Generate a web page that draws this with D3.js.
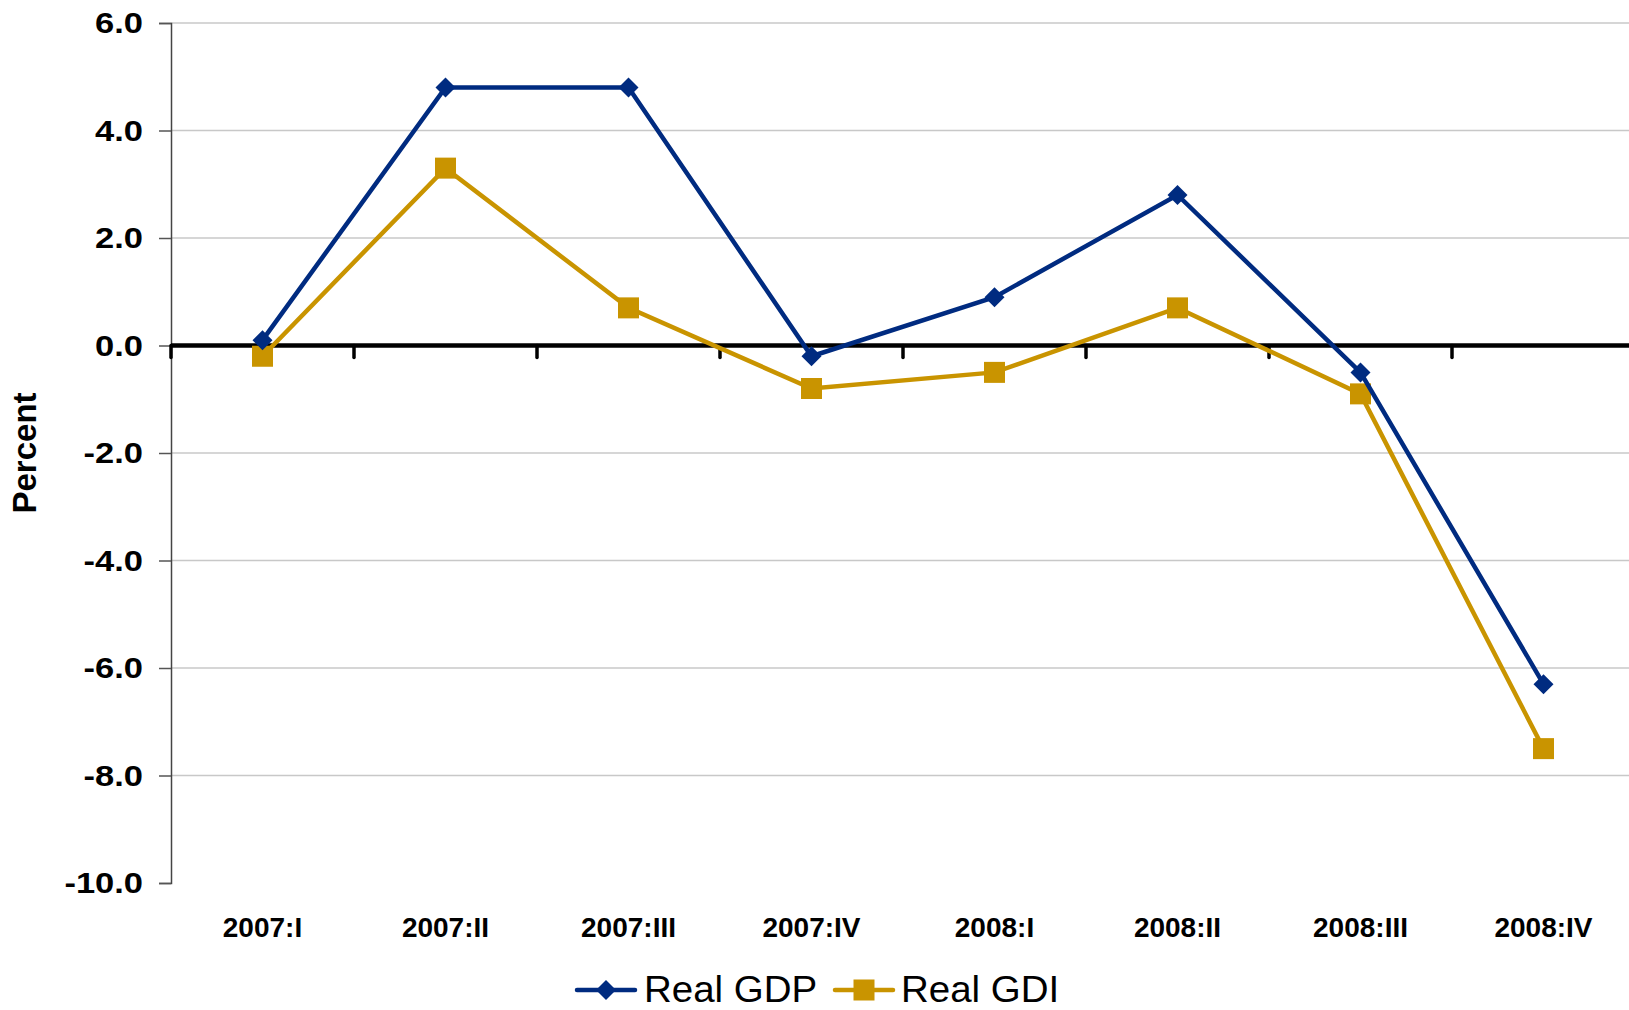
<!DOCTYPE html>
<html>
<head>
<meta charset="utf-8">
<script src="https://cdn.jsdelivr.net/npm/d3@7"></script>
<style>
  html, body { margin: 0; padding: 0; background: #fff; }
  svg { display: block; font-family: "Liberation Sans", Arial, sans-serif; }
</style>
</head>
<body>
<svg id="chart" width="1629" height="1010"></svg>
<script>
const categories = ["2007:I", "2007:II", "2007:III", "2007:IV", "2008:I", "2008:II", "2008:III", "2008:IV"];
const realGDP = [0.1, 4.8, 4.8, -0.2, 0.9, 2.8, -0.5, -6.3];
const realGDI = [-0.2, 3.3, 0.7, -0.8, -0.5, 0.7, -0.9, -7.5];
const yTicks = [6, 4, 2, 0, -2, -4, -6, -8, -10];
const seriesNames = ["Real GDP", "Real GDI"];

const colGDP = "#002B80";
const colGDI = "#C99400";

const svg = d3.select("#chart");
const plotLeft = 171, plotRight = 1635, plotTop = 23, plotBottom = 883;

const x = d3.scaleBand().domain(categories).range([plotLeft, plotRight]).padding(0);
const y = d3.scaleLinear().domain([-10, 6]).range([plotBottom, plotTop]);

// gridlines
svg.append("g").selectAll("line").data(yTicks.filter(d => d !== 0 && d !== -10)).join("line")
  .attr("x1", plotLeft).attr("x2", 1629)
  .attr("y1", d => y(d)).attr("y2", d => y(d))
  .attr("stroke", "#c8c8c8").attr("stroke-width", 1.5);

// y axis
const fmt = d => d.toFixed(1);
const yAxis = d3.axisLeft(y).tickValues(yTicks).tickFormat(fmt).tickSize(12).tickPadding(16);
const gy = svg.append("g").attr("transform", `translate(${plotLeft},0)`).call(yAxis);
gy.select(".domain").attr("stroke", "#444").attr("stroke-width", 1.5);
gy.selectAll(".tick line").attr("stroke", "#555").attr("stroke-width", 1.5);
gy.selectAll(".tick text")
  .attr("font-family", "'Liberation Sans', Arial, sans-serif")
  .attr("font-size", 30).attr("font-weight", "bold").attr("fill", "#000")
  .attr("x", 0)
  .attr("transform", "translate(-28,0) scale(1.15,1)");

// zero line with tick marks
const tickXs = categories.map(c => x(c)).concat([x(categories[categories.length - 1]) + x.bandwidth()]);
svg.append("g").selectAll("line").data(tickXs).join("line")
  .attr("x1", d => d).attr("x2", d => d)
  .attr("y1", y(0)).attr("y2", y(0) + 12)
  .attr("stroke", "#000").attr("stroke-width", 3.5).attr("stroke-linecap", "round");
svg.append("line")
  .attr("x1", plotLeft).attr("x2", 1629)
  .attr("y1", y(0)).attr("y2", y(0))
  .attr("stroke", "#000").attr("stroke-width", 4.5);

// x category labels
svg.append("g").selectAll("text").data(categories).join("text")
  .attr("x", d => x(d) + x.bandwidth() / 2)
  .attr("y", 937)
  .attr("text-anchor", "middle")
  .attr("font-size", 28).attr("font-weight", "bold").attr("fill", "#000")
  .text(d => d);

// y axis title
svg.append("text")
  .attr("transform", `translate(36,453) rotate(-90)`)
  .attr("text-anchor", "middle")
  .attr("font-size", 33).attr("font-weight", "bold").attr("fill", "#000")
  .text("Percent");

const line = d3.line().x((d, i) => x(categories[i]) + x.bandwidth() / 2).y(d => y(d));

// GDI series
svg.append("path").datum(realGDI).attr("d", line)
  .attr("fill", "none").attr("stroke", colGDI).attr("stroke-width", 4.5).attr("stroke-linejoin", "miter");
svg.append("g").selectAll("rect").data(realGDI).join("rect")
  .attr("x", (d, i) => x(categories[i]) + x.bandwidth() / 2 - 10.5)
  .attr("y", d => y(d) - 10.5)
  .attr("width", 21).attr("height", 21)
  .attr("fill", colGDI);

// GDP series
svg.append("path").datum(realGDP).attr("d", line)
  .attr("fill", "none").attr("stroke", colGDP).attr("stroke-width", 4.5).attr("stroke-linejoin", "miter");
svg.append("g").selectAll("path").data(realGDP).join("path")
  .attr("transform", (d, i) => `translate(${x(categories[i]) + x.bandwidth() / 2},${y(d)})`)
  .attr("d", "M0,-10L10,0L0,10L-10,0Z")
  .attr("fill", colGDP);

// legend
const lg = svg.append("g");
const legendItems = [
  { name: seriesNames[0], color: colGDP, x0: 577, marker: "diamond", tx: 644 },
  { name: seriesNames[1], color: colGDI, x0: 835, marker: "square", tx: 901 }
];
legendItems.forEach(it => {
  lg.append("line").attr("x1", it.x0).attr("x2", it.x0 + 58)
    .attr("y1", 990).attr("y2", 990)
    .attr("stroke", it.color).attr("stroke-width", 4.5).attr("stroke-linecap", "round");
  const cx = it.x0 + 29;
  if (it.marker === "diamond") {
    lg.append("path").attr("d", `M${cx},980L${cx + 10},990L${cx},1000L${cx - 10},990Z`).attr("fill", it.color);
  } else {
    lg.append("rect").attr("x", cx - 10.5).attr("y", 979.5).attr("width", 21).attr("height", 21).attr("fill", it.color);
  }
  lg.append("text").attr("x", it.tx).attr("y", 1002)
    .attr("font-size", 37).attr("fill", "#000")
    .attr("transform", `translate(${it.tx},0) scale(1.04,1) translate(${-it.tx},0)`)
    .text(it.name);
});
</script>
</body>
</html>
